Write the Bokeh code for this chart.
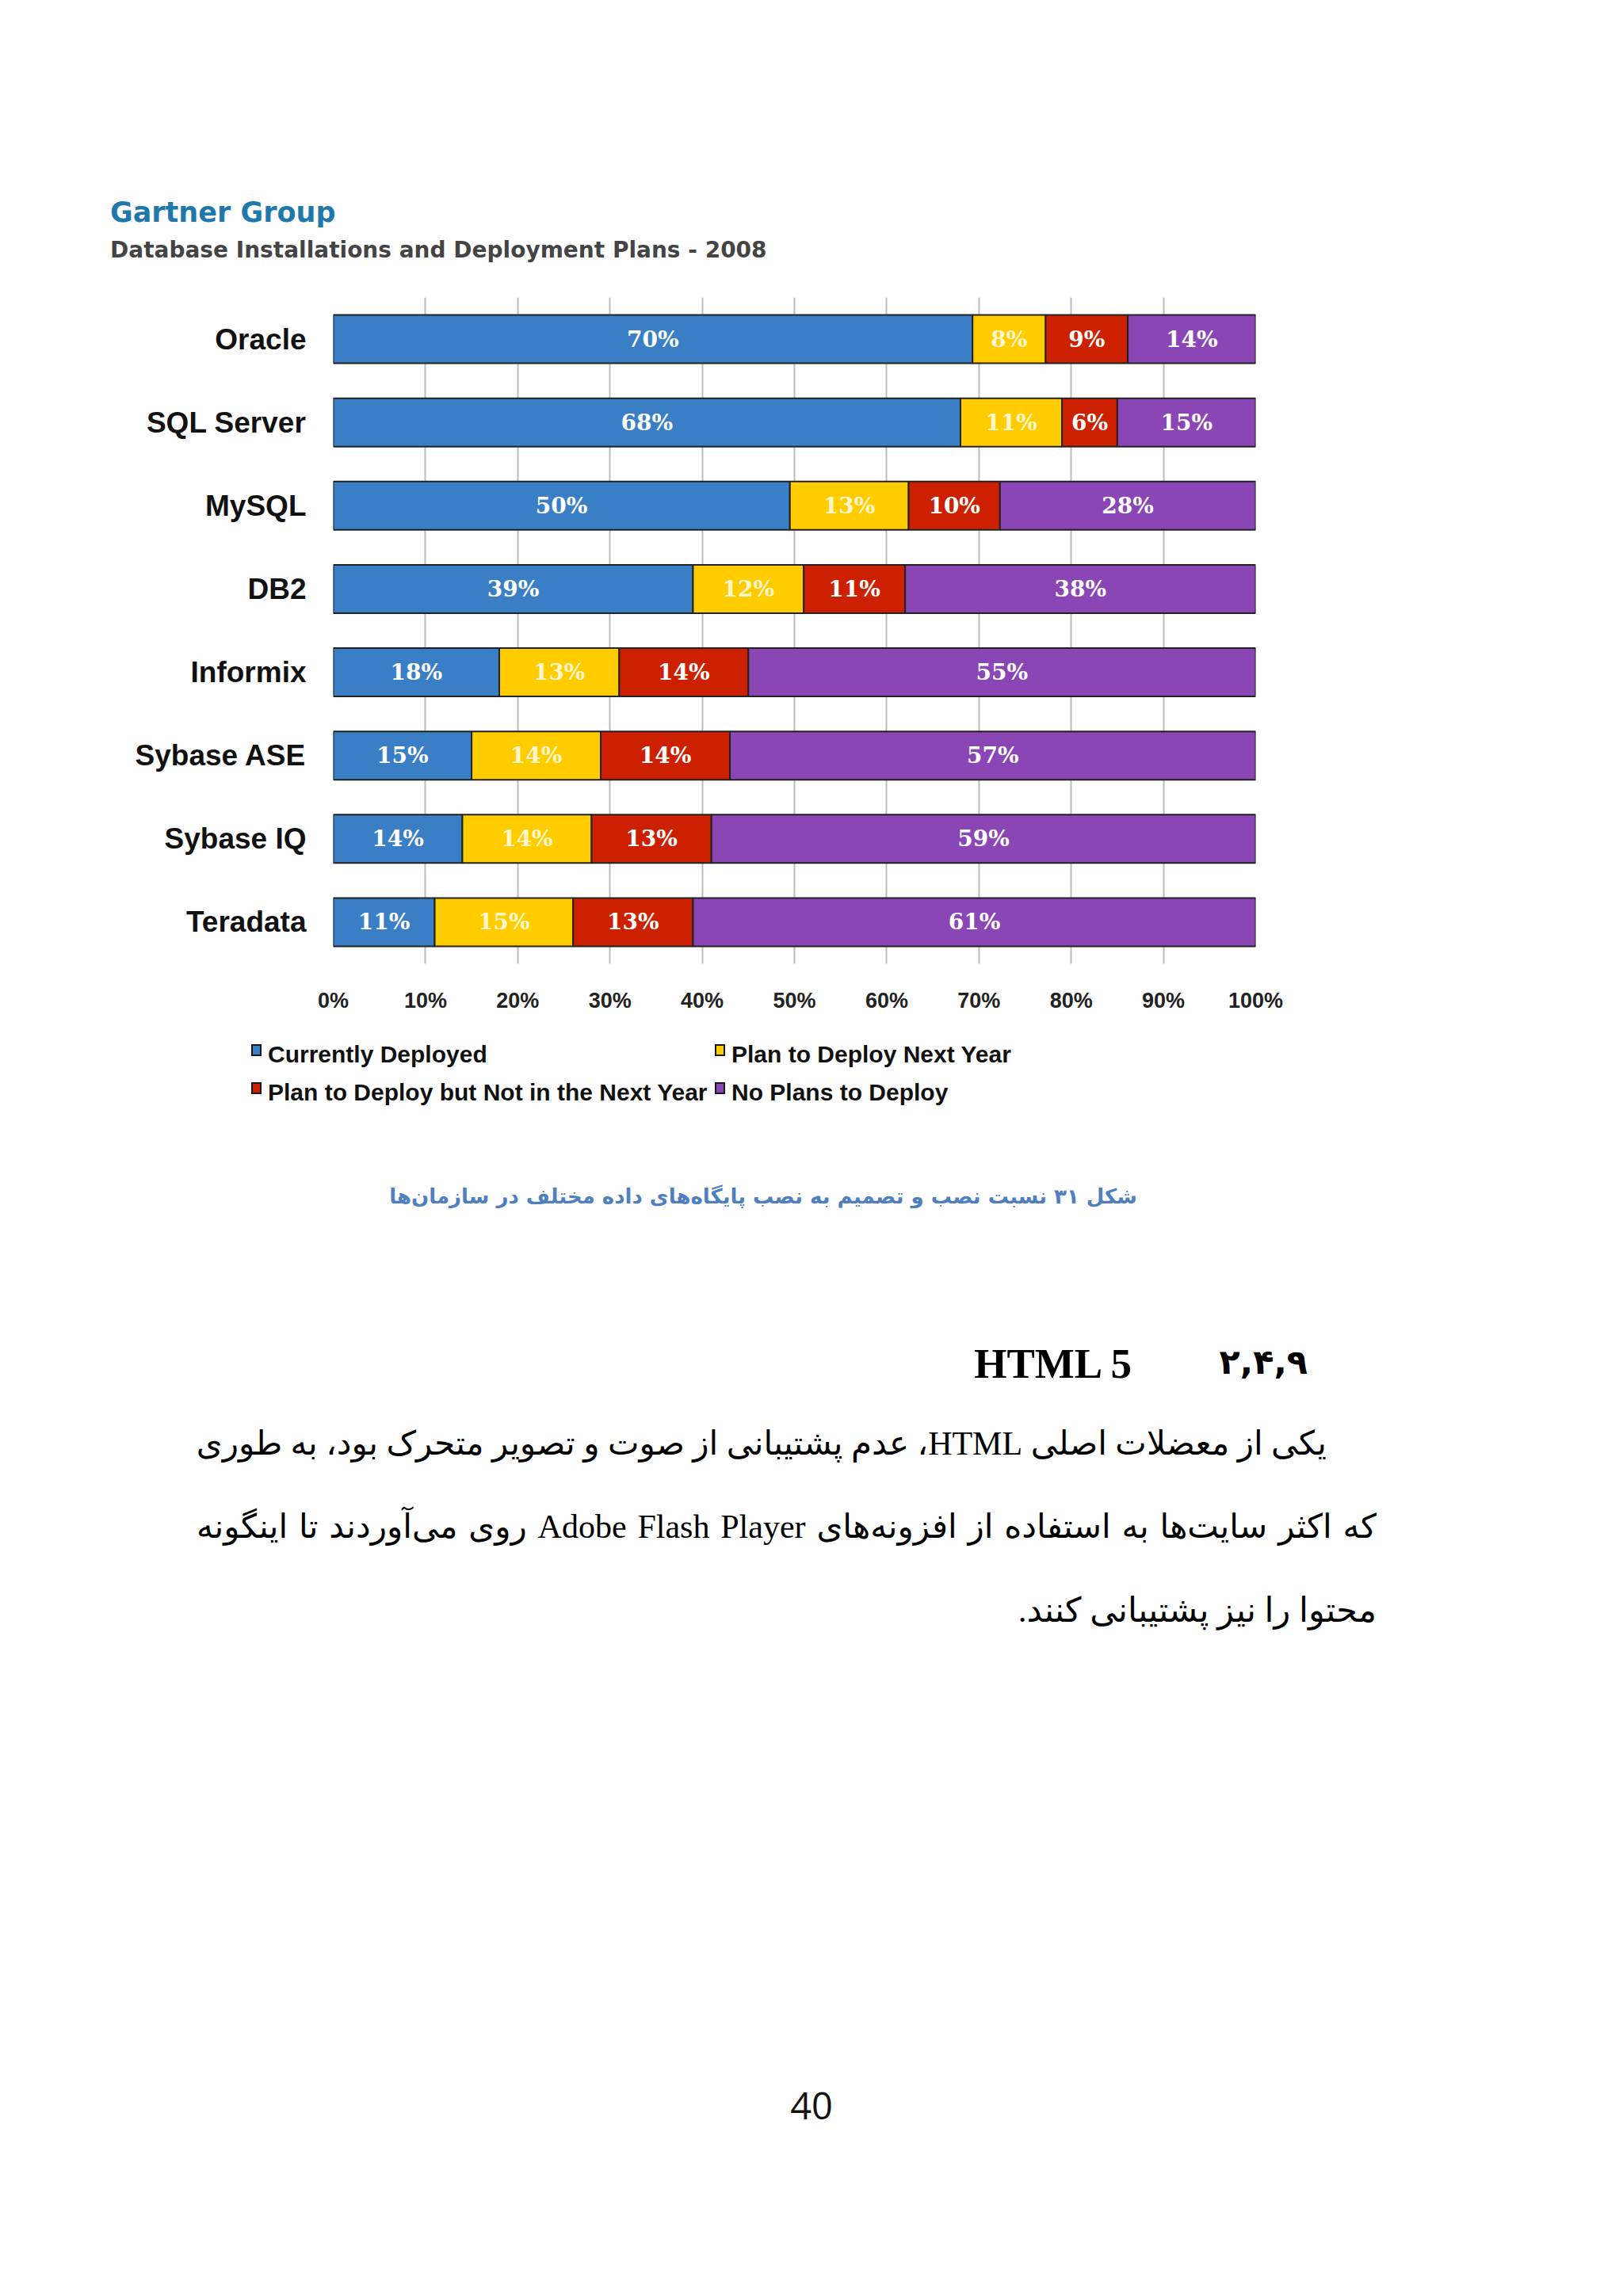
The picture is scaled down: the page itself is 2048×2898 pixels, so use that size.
from bokeh.plotting import figure
from bokeh.models import (ColumnDataSource, FactorRange, FixedTicker, PrintfTickFormatter, Div)
from bokeh.layouts import column
from bokeh.core.properties import value
from bokeh.embed import file_html
from bokeh.resources import INLINE

# ---------------- data ----------------
databases = ["Oracle", "SQL Server", "MySQL", "DB2", "Informix", "Sybase ASE", "Sybase IQ", "Teradata"]
currently_deployed = [70, 68, 50, 39, 18, 15, 14, 11]
plan_next_year = [8, 11, 13, 12, 13, 14, 14, 15]
plan_not_next_year = [9, 6, 10, 11, 14, 14, 13, 13]
no_plans = [14, 15, 28, 38, 55, 57, 59, 61]
series_names = ["Currently Deployed", "Plan to Deploy Next Year",
                "Plan to Deploy but Not in the Next Year", "No Plans to Deploy"]
x_ticks = [0, 10, 20, 30, 40, 50, 60, 70, 80, 90, 100]

title_text = "Gartner Group"
subtitle_text = "Database Installations and Deployment Plans - 2008"
caption_text = "شکل ۳۱ نسبت نصب و تصمیم به نصب پایگاه‌های داده مختلف در سازمان‌ها"
heading_num = "۲,۴,۹"
heading_txt = "HTML 5"
para_lines = [
    "یکی از معضلات اصلی HTML، عدم پشتیبانی از صوت و تصویر متحرک بود، به طوری",
    "که اکثر سایت‌ها به استفاده از افزونه‌های Adobe Flash Player روی می‌آوردند تا اینگونه",
    "محتوا را نیز پشتیبانی کنند.",
]
page_number = "40"

# ---------------- styles ----------------
colors = ["#3a7ec6", "#ffcc00", "#cc2000", "#8a46b4"]
text_colors = ["#ffffff", "#fff6cc", "#ffffff", "#ffffff"]
keys = ["cur", "nxt", "later", "none"]

series = [currently_deployed, plan_next_year, plan_not_next_year, no_plans]
totals = [sum(v) for v in zip(*series)]
norm = [[v / t * 100 for v, t in zip(s, totals)] for s in series]

data = {"db": databases}
for k, s in zip(keys, norm):
    data[k] = s
src = ColumnDataSource(data)

lx, ly, lt, lc = [], [], [], []
for i, db in enumerate(databases):
    left = 0.0
    for j in range(4):
        w = norm[j][i]
        lx.append(left + w / 2)
        ly.append(db)
        lt.append(f"{series[j][i]}%")
        lc.append(text_colors[j])
        left += w
lsrc = ColumnDataSource(dict(x=lx, y=ly, t=lt, c=lc))

FL, FT, FW, FH = 420, 375, 1164, 841
W, H = 2040, 2890
FIG_BOTTOM = 1300          # page y where the chart figure ends and the text block begins
BOT_H = H - FIG_BOTTOM

p = figure(frame_width=FW, frame_height=FH, output_backend="svg", toolbar_location=None,
           y_range=FactorRange(factors=list(reversed(databases)), range_padding=0),
           x_range=(0, 100),
           min_border_left=FL, min_border_top=0,
           min_border_right=W - FL - FW, min_border_bottom=FIG_BOTTOM - FT - FH)
p.outline_line_color = None
p.background_fill_color = "white"
p.border_fill_color = "white"

renderers = p.hbar_stack(keys, y="db", height=0.58, color=colors, source=src,
                         line_color="#222222", line_width=2)

p.text(x="x", y="y", text="t", source=lsrc, text_color="c",
       text_font=value("DejaVu Serif"), text_font_style="bold",
       text_font_size="28px", text_align="center", text_baseline="middle")

p.xaxis.ticker = FixedTicker(ticks=x_ticks)
p.xaxis.formatter = PrintfTickFormatter(format="%d%%")
p.xaxis.axis_line_color = None
p.xaxis.major_tick_line_color = None
p.xaxis.minor_tick_line_color = None
p.xaxis.major_label_standoff = 25
p.xaxis.major_label_text_font = "Liberation Sans"
p.xaxis.major_label_text_font_style = "bold"
p.xaxis.major_label_text_font_size = "27px"
p.xaxis.major_label_text_color = "#222222"

p.yaxis.axis_line_color = None
p.yaxis.major_tick_line_color = None
p.yaxis.minor_tick_line_color = None
p.yaxis.major_label_standoff = 28
p.yaxis.major_label_text_font = "Liberation Sans"
p.yaxis.major_label_text_font_style = "bold"
p.yaxis.major_label_text_font_size = "37px"
p.yaxis.major_label_text_color = "#111111"

p.xgrid.ticker = FixedTicker(ticks=x_ticks)
p.xgrid.grid_line_color = "#bdbdbd"
p.xgrid.grid_line_width = 2
p.ygrid.grid_line_color = None


def box(left, cy, h, inner, extra="", y0=0):
    return (f'<div style="position:absolute;left:{left}px;top:{cy - y0 - h / 2}px;'
            f'height:{h}px;line-height:{h}px;white-space:nowrap;{extra}">{inner}</div>')


def rbox(right, cy, h, inner, extra="", y0=0):
    return (f'<div style="position:absolute;right:{W - right}px;top:{cy - y0 - h / 2}px;'
            f'height:{h}px;line-height:{h}px;white-space:nowrap;{extra}">{inner}</div>')


# ---- page block above the chart: chart title and subtitle ----
top_parts = [
    box(139, 268, 50, title_text,
        "font-family:'DejaVu Sans';font-weight:bold;font-size:35px;color:#1f78aa;"),
    box(139, 316, 40, subtitle_text,
        "font-family:'DejaVu Sans';font-weight:bold;font-size:28px;color:#444444;"),
]
top_html = (f'<div style="position:relative;width:{W}px;height:{FT}px;background:white;">'
            + "".join(top_parts) + "</div>")
top_div = Div(text=top_html, width=W, height=FT, margin=0)

# ---- page block below the chart: legend, caption, heading, paragraph, page number ----
parts = []
leg_pos = [(317, 1331), (902, 1331), (317, 1379), (902, 1379)]
for name, col, (lx0, ly0) in zip(series_names, colors, leg_pos):
    parts.append(f'<div style="position:absolute;left:{lx0}px;top:{ly0 - FIG_BOTTOM - 13}px;'
                 f'width:13px;height:15px;background:{col};border:2px solid #1a1a1a;"></div>')
    parts.append(box(lx0 + 21, ly0, 40, name,
                     "font-family:'Liberation Sans';font-weight:bold;font-size:30px;color:#111;",
                     FIG_BOTTOM))

# caption (centred)
parts.append(f'<div dir="rtl" style="position:absolute;left:0;width:{2 * 963}px;text-align:center;'
             f'top:{1510 - FIG_BOTTOM - 20}px;height:40px;line-height:40px;white-space:nowrap;'
             f'font-family:\'DejaVu Sans\';font-weight:bold;font-size:26px;color:#4f7fbf;">{caption_text}</div>')

# heading
parts.append(rbox(1650, 1719, 70, heading_num,
                  "font-family:'DejaVu Sans';font-weight:bold;font-size:43px;color:#000;", FIG_BOTTOM))
parts.append(rbox(1428, 1721, 70, heading_txt,
                  "font-family:'Liberation Serif';font-weight:bold;font-size:53px;color:#000;", FIG_BOTTOM))

# paragraph lines (justified like the page)
para_left = [248, 248, None]
para_right = [1674, 1737, 1737]
para_y = [1822, 1927, 2033]
for t, lft, rgt, yy in zip(para_lines, para_left, para_right, para_y):
    style = ("font-family:'Liberation Serif','DejaVu Sans';font-size:42px;color:#000;")
    if lft is not None:
        parts.append(f'<div dir="rtl" style="position:absolute;left:{lft}px;width:{rgt - lft}px;'
                     f'top:{yy - FIG_BOTTOM - 30}px;height:60px;line-height:60px;white-space:nowrap;'
                     f'text-align:justify;text-align-last:justify;{style}">{t}</div>')
    else:
        parts.append(f'<div dir="rtl" style="position:absolute;right:{W - rgt}px;'
                     f'top:{yy - FIG_BOTTOM - 30}px;height:60px;line-height:60px;white-space:nowrap;'
                     f'{style}font-size:43px;">{t}</div>')

# page number
parts.append(f'<div style="position:absolute;left:0;width:{2 * 1024}px;text-align:center;'
             f'top:{2657 - FIG_BOTTOM - 35}px;height:70px;line-height:70px;'
             f'font-family:\'Open Sans\';font-size:47px;color:#111;">{page_number}</div>')

html = (f'<div style="position:relative;width:{W}px;height:{BOT_H}px;background:white;">'
        + "".join(parts) + "</div>")
div = Div(text=html, width=W, height=BOT_H, margin=0)

layout = column(top_div, p, div, spacing=0)
open("out.html", "w").write(file_html(layout, INLINE))
